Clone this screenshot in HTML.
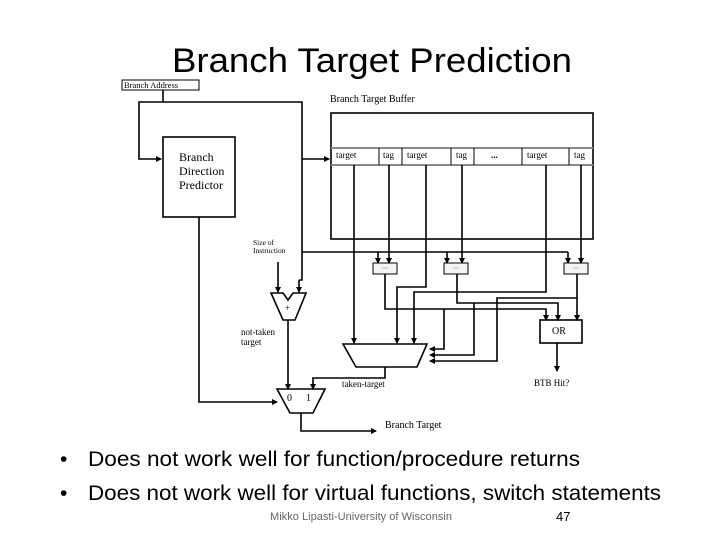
<!DOCTYPE html>
<html><head><meta charset="utf-8"><style>
html,body{margin:0;padding:0;background:#fff;}
svg{display:block;}
.s{font-family:"Liberation Serif",serif;fill:#000;}
.c{font-family:"Liberation Sans",sans-serif;fill:#000;}
</style></head><body>
<svg width="720" height="540" viewBox="0 0 720 540" xmlns="http://www.w3.org/2000/svg">
<defs>
<marker id="a" markerWidth="6" markerHeight="6" refX="5" refY="3" orient="auto" markerUnits="userSpaceOnUse"><path d="M0,0 L6,3 L0,6 z" fill="#000"/></marker>
</defs>
<text class="c" x="172" y="72" font-size="34" textLength="400" lengthAdjust="spacingAndGlyphs">Branch Target Prediction</text>

<g stroke="#000" stroke-width="1.6" fill="none">
<rect x="122" y="80" width="77" height="10" stroke-width="1"/>
<polyline points="163,90 163,102 139,102 139,159 161,159" marker-end="url(#a)"/>
<polyline points="163,102 302,102 302,280 299,280"/>
<line x1="302" y1="159" x2="329" y2="159" marker-end="url(#a)"/>
<rect x="163" y="137" width="72" height="80"/>
<polyline points="199,217 199,402 277,402" marker-end="url(#a)"/>
<rect x="331" y="113" width="262" height="126"/>
<line x1="331" y1="148" x2="593" y2="148" stroke="#888" stroke-width="2"/>
<line x1="331" y1="165" x2="593" y2="165" stroke="#888" stroke-width="2"/>
<g stroke-width="1">
<line x1="379" y1="148" x2="379" y2="165"/><line x1="402" y1="148" x2="402" y2="165"/>
<line x1="451" y1="148" x2="451" y2="165"/><line x1="474" y1="148" x2="474" y2="165"/>
<line x1="522" y1="148" x2="522" y2="165"/><line x1="569" y1="148" x2="569" y2="165"/>
</g>
<polyline points="302,252 568,252"/>
<line x1="378" y1="252" x2="378" y2="263" marker-end="url(#a)"/>
<line x1="447" y1="252" x2="447" y2="263" marker-end="url(#a)"/>
<line x1="568" y1="252" x2="568" y2="263" marker-end="url(#a)"/>
<line x1="389" y1="165" x2="389" y2="263" marker-end="url(#a)"/>
<line x1="462" y1="165" x2="462" y2="263" marker-end="url(#a)"/>
<line x1="581" y1="165" x2="581" y2="263" marker-end="url(#a)"/>
<rect x="373" y="263" width="24" height="11" stroke-width="1" fill="#f4f4f4"/>
<rect x="444" y="263" width="24" height="11" stroke-width="1" fill="#f4f4f4"/>
<rect x="564" y="263" width="24" height="11" stroke-width="1" fill="#f4f4f4"/>
<g stroke="#bbb" stroke-width="1">
<line x1="382" y1="268" x2="388" y2="268"/><line x1="453" y1="268" x2="459" y2="268"/><line x1="573" y1="268" x2="579" y2="268"/>
</g>
<polyline points="385,274 385,309 546,309 546,320" marker-end="url(#a)"/>
<polyline points="457,274 457,303 558,303 558,320" marker-end="url(#a)"/>
<line x1="577" y1="274" x2="577" y2="320" marker-end="url(#a)"/>
<polyline points="444,309 444,349 430,349" marker-end="url(#a)"/>
<polyline points="474,303 474,355 430,355" marker-end="url(#a)"/>
<polyline points="577,298 497,298 497,361 430,361" marker-end="url(#a)"/>
<rect x="540" y="320" width="42" height="23"/>
<line x1="557" y1="343" x2="557" y2="371" marker-end="url(#a)"/>
<line x1="354" y1="165" x2="354" y2="343" marker-end="url(#a)"/>
<polyline points="426,165 426,287 397,287 397,343" marker-end="url(#a)"/>
<polyline points="546,165 546,292 414,292 414,343" marker-end="url(#a)"/>
<polygon points="343,344 427,344 417,367 356,367"/>
<polyline points="385,367 385,378 313,378 313,389" marker-end="url(#a)"/>
<polyline points="278,262 278,292" marker-end="url(#a)"/>
<line x1="299" y1="280" x2="299" y2="292" marker-end="url(#a)"/>
<polygon points="271,293 283,293 288,300 293,293 306,293 295,320 283,320"/>
<line x1="288" y1="320" x2="288" y2="389" marker-end="url(#a)"/>
<polygon points="277,389 325,389 313,413 290,413"/>
<polyline points="301,413 301,431 376,431" marker-end="url(#a)"/>
</g>

<g class="s" font-size="10">
<text x="124" y="88" font-size="8.5">Branch Address</text>
<text x="330" y="102">Branch Target Buffer</text>
<text x="179" y="161" font-size="12">Branch</text>
<text x="179" y="175" font-size="12">Direction</text>
<text x="179" y="189" font-size="12">Predictor</text>
<text x="336" y="158" font-size="9">target</text>
<text x="383" y="158" font-size="9">tag</text>
<text x="407" y="158" font-size="9">target</text>
<text x="456" y="158" font-size="9">tag</text>
<text x="491" y="158" font-size="9" font-weight="bold">...</text>
<text x="527" y="158" font-size="9">target</text>
<text x="574" y="158" font-size="9">tag</text>
<text x="253" y="245" font-size="7.5">Size of</text>
<text x="253" y="253" font-size="7.5">Instruction</text>
<text x="285" y="311" font-size="9">+</text>
<text x="241" y="335" font-size="9">not-taken</text>
<text x="241" y="345" font-size="9">target</text>
<text x="342" y="387" font-size="9">taken-target</text>
<text x="552" y="334">OR</text>
<text x="534" y="386" font-size="9">BTB Hit?</text>
<text x="287" y="401">0</text>
<text x="306" y="401">1</text>
<text x="385" y="428">Branch Target</text>
</g>

<g class="c" font-size="21">
<text x="60" y="466">•</text>
<text x="88" y="466" textLength="492" lengthAdjust="spacingAndGlyphs">Does not work well for function/procedure returns</text>
<text x="60" y="500">•</text>
<text x="88" y="500" textLength="573" lengthAdjust="spacingAndGlyphs">Does not work well for virtual functions, switch statements</text>
</g>
<text class="c" x="270" y="520" font-size="11" style="fill:#666" textLength="182" lengthAdjust="spacingAndGlyphs">Mikko Lipasti-University of Wisconsin</text>
<text class="c" x="556" y="521" font-size="13">47</text>
</svg>
</body></html>
